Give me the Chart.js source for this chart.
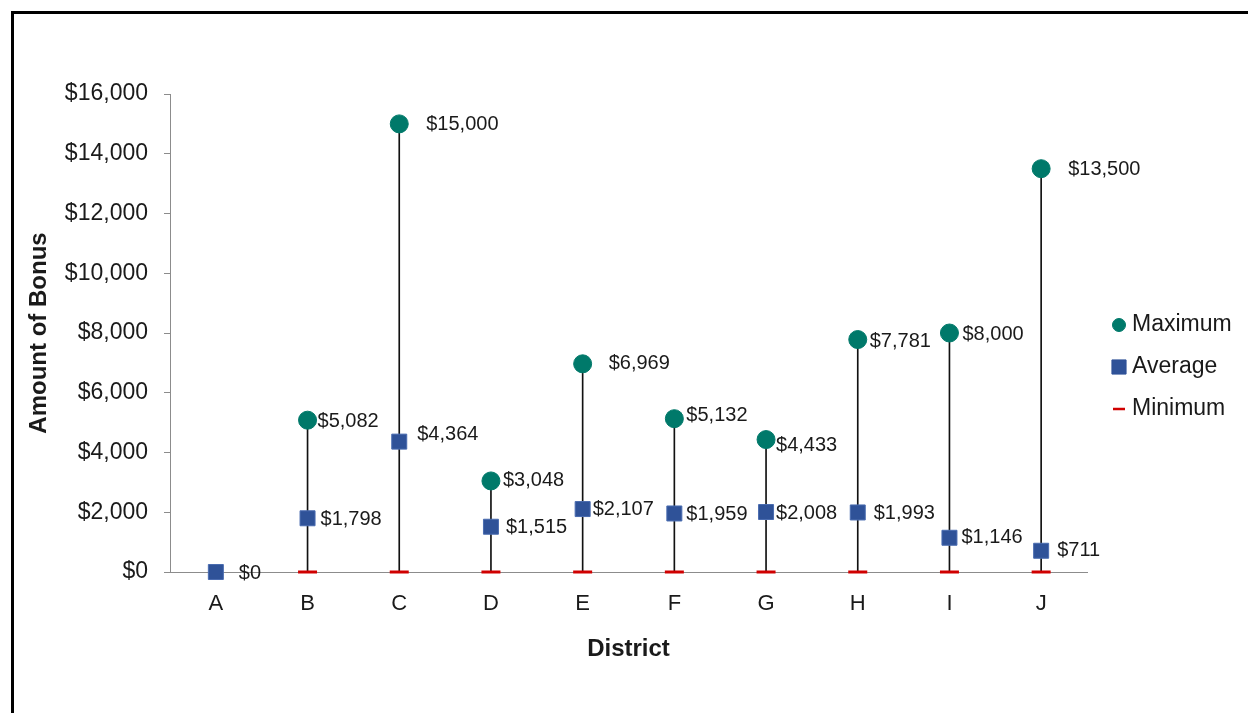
<!DOCTYPE html>
<html>
<head>
<meta charset="utf-8">
<title>Amount of Bonus by District</title>
<script src="https://cdn.jsdelivr.net/npm/chart.js@4.4.1/dist/chart.umd.min.js"></script>
<style>
  html, body { margin: 0; padding: 0; background: #fff; overflow: hidden; }
  .frame {
    position: absolute; left: 11px; top: 11px;
    width: 1260px; height: 720px;
    border: 3px solid #000; background: #fff;
  }
  #bonus-chart { position: absolute; left: 0; top: 0; }
</style>
</head>
<body>
<div class="frame">
  <canvas id="bonus-chart" width="1234" height="699"></canvas>
</div>
<script>
const districts = ["A", "B", "C", "D", "E", "F", "G", "H", "I", "J"];
const maximum = [null, 5082, 15000, 3048, 6969, 5132, 4433, 7781, 8000, 13500];
const average = [0, 1798, 4364, 1515, 2107, 1959, 2008, 1993, 1146, 711];
const minimum = [null, 0, 0, 0, 0, 0, 0, 0, 0, 0];
const yTicks = [0, 2000, 4000, 6000, 8000, 10000, 12000, 14000, 16000];

// label nudges [dx, dy] from each marker centre
const maxLabelOffsets = [[0, 0], [10, 1], [27, 1], [12, 0], [26, 0], [12, -3], [10, 6], [12, 2], [13, 1], [27, 1]];
const avgLabelOffsets = [[23, 1], [13, 1], [18, -7], [15, 1], [10, 0], [12, 1], [10, 1], [16, 1], [12, 0], [16, 0]];

const FONT = "'Liberation Sans', Arial, sans-serif";
const GREEN = "#00796a";
const BLUE = "#2f5298";
const RED = "#d00000";
const AXIS = "#8c8c8c";

const money = (v) => "$" + Number(v).toLocaleString("en-US");

// high-low lines as thin floating bars
const ranges = districts.map((d, i) =>
  maximum[i] == null ? null : [minimum[i], maximum[i]]
);

const pointLabels = {
  id: "pointLabels",
  afterDatasetsDraw(chart) {
    const { ctx } = chart;
    ctx.save();
    ctx.font = "20px " + FONT;
    ctx.fillStyle = "#1a1a1a";
    ctx.textAlign = "left";
    ctx.textBaseline = "middle";
    [[1, maximum, maxLabelOffsets], [2, average, avgLabelOffsets]].forEach(([idx, values, offs]) => {
      const meta = chart.getDatasetMeta(idx);
      meta.data.forEach((pt, i) => {
        if (values[i] == null) return;
        ctx.fillText(money(values[i]), pt.x + offs[i][0], pt.y + offs[i][1]);
      });
    });
    ctx.restore();
  },
};

const sideLegend = {
  id: "sideLegend",
  afterDraw(chart) {
    const { ctx, chartArea } = chart;
    const items = [
      { text: "Maximum", style: "circle", radius: 6.5, width: 1, color: GREEN },
      { text: "Average", style: "rect", radius: 10, width: 1, color: BLUE },
      { text: "Minimum", style: "line", radius: 6, width: 2.5, color: RED },
    ];
    const x = chartArea.right + 32;
    let y = (chartArea.top + chartArea.bottom) / 2 - 8;
    ctx.save();
    ctx.font = "23px " + FONT;
    ctx.textBaseline = "middle";
    ctx.textAlign = "left";
    items.forEach((it) => {
      ctx.fillStyle = it.color;
      ctx.strokeStyle = it.color;
      ctx.lineWidth = it.width;
      Chart.helpers.drawPoint(ctx, { pointStyle: it.style, radius: it.radius, rotation: 0, borderWidth: it.width }, x, y);
      ctx.fillStyle = "#1a1a1a";
      ctx.fillText(it.text, x + 13, y);
      y += 42;
    });
    ctx.restore();
  },
};

new Chart(document.getElementById("bonus-chart"), {
  type: "bar",
  data: {
    labels: districts,
    datasets: [
      {
        label: "Range",
        data: ranges,
        backgroundColor: "#111",
        barThickness: 1,
        order: 4,
      },
      {
        type: "line",
        label: "Maximum",
        data: maximum,
        showLine: false,
        pointStyle: "circle",
        pointRadius: 9,
        pointBackgroundColor: GREEN,
        pointBorderColor: GREEN,
        pointBorderWidth: 1,
        clip: false,
        order: 1,
      },
      {
        type: "line",
        label: "Average",
        data: average,
        showLine: false,
        pointStyle: "rect",
        pointRadius: 10.6,
        pointBackgroundColor: BLUE,
        pointBorderColor: "#4a6cb0",
        pointBorderWidth: 1,
        clip: false,
        order: 2,
      },
      {
        type: "line",
        label: "Minimum",
        data: minimum,
        showLine: false,
        pointStyle: "line",
        pointRadius: 9.5,
        pointBorderColor: RED,
        pointBorderWidth: 3,
        clip: false,
        order: 3,
      },
    ],
  },
  options: {
    responsive: false,
    animation: false,
    layout: { padding: { top: 80, right: 161, bottom: 0, left: 0 } },
    plugins: {
      legend: { display: false },
      tooltip: { enabled: false },
    },
    scales: {
      x: {
        grid: { display: false, drawTicks: false },
        border: { display: true, color: AXIS, width: 1 },
        ticks: { color: "#1a1a1a", font: { family: FONT, size: 22 }, padding: 19 },
        title: {
          display: true,
          text: "District",
          color: "#1a1a1a",
          font: { family: FONT, size: 24, weight: "bold" },
          padding: { top: 0, bottom: 49 },
        },
        afterFit: (scale) => { scale.height = 141; },
      },
      y: {
        min: 0,
        max: 16000,
        afterBuildTicks: (scale) => { scale.ticks = yTicks.map((v) => ({ value: v })); },
        grid: { display: true, drawOnChartArea: false, drawTicks: true, tickLength: 6, color: AXIS },
        border: { display: true, color: AXIS, width: 1 },
        ticks: {
          color: "#1a1a1a",
          font: { family: FONT, size: 23 },
          padding: 16,
          callback: (v) => money(v),
        },
        title: {
          display: true,
          text: "Amount of Bonus",
          color: "#1a1a1a",
          font: { family: FONT, size: 24, weight: "bold" },
          padding: { top: 11, bottom: 0 },
        },
        afterFit: (scale) => { scale.width = 156; },
      },
    },
  },
  plugins: [pointLabels, sideLegend],
});
</script>
</body>
</html>
